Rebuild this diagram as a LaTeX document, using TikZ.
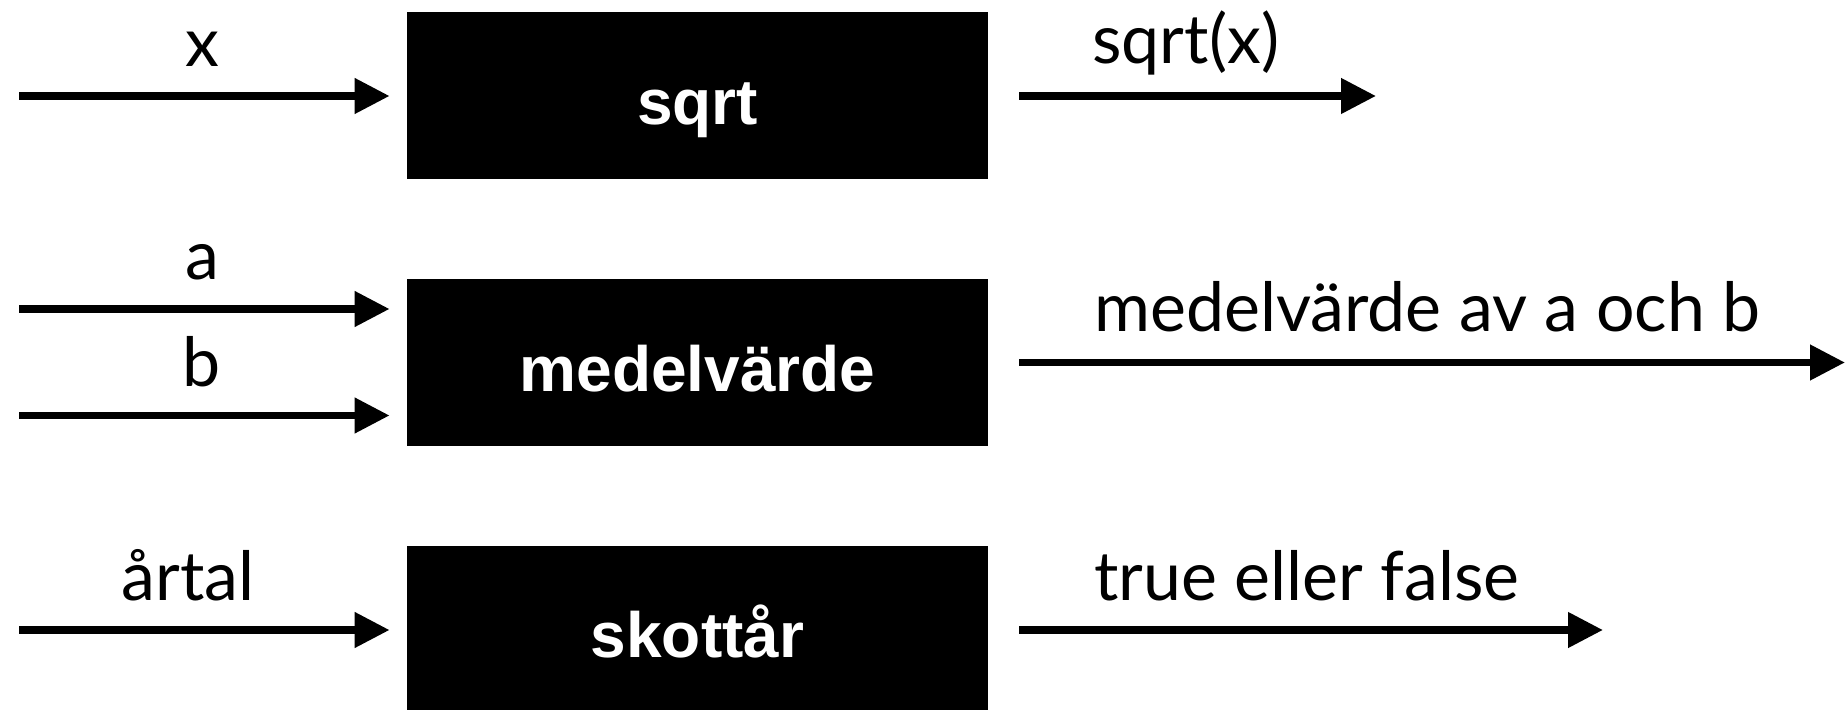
\documentclass[tikz,border=0pt]{standalone}
\usepackage{fontspec}
\setmainfont{Lato}
\newfontfamily\boxfont{Liberation Sans}
\usetikzlibrary{arrows.meta}

\tikzset{
  funcbox/.style={fill=black, draw=none, minimum width=290.5pt, minimum height=83.5pt,
    inner sep=0pt, text=white, text height=29.5pt, text depth=0pt,
    font=\boxfont\fontsize{32pt}{36pt}\selectfont\bfseries},
  lbl/.style={inner sep=0pt, font=\fontsize{34pt}{40pt}\selectfont},
  conn/.style={line width=3.75pt, -{Triangle[length=17.5pt,width=17pt]}},
}

\begin{document}
\begin{tikzpicture}[x=0.5pt,y=-0.5pt]
  \useasboundingbox (0,0) rectangle (1845,710);

  % function boxes
  \node[funcbox] (sqrt) at (697.5,95.5) {sqrt};
  \node[funcbox] (medel) at (697.5,362.5) {medelvärde};
  \node[funcbox, minimum height=82pt] (skott) at (697.5,628) {skottår};

  % free ends of the connectors
  \coordinate (xin) at (19,96);
  \coordinate (ain) at (19,309);
  \coordinate (bin) at (19,415.5);
  \coordinate (yin) at (19,630);
  \coordinate (sqrtout) at (1376,96);
  \coordinate (medelout) at (1845,362.5);
  \coordinate (skottout) at (1603,630);

  % inputs
  \draw[conn, shorten >=8.5pt] (xin) -- (sqrt.west |- xin);
  \draw[conn, shorten >=8.5pt] (ain) -- (medel.west |- ain);
  \draw[conn, shorten >=8.5pt] (bin) -- (medel.west |- bin);
  \draw[conn, shorten >=8.5pt] (yin) -- (skott.west |- yin);

  % outputs
  \draw[conn, shorten <=15.5pt] (sqrt.east |- sqrtout) -- (sqrtout);
  \draw[conn, shorten <=15.5pt] (medel.east |- medelout) -- (medelout);
  \draw[conn, shorten <=15.5pt] (skott.east |- skottout) -- (skottout);

  % labels
  \node[lbl, anchor=base] (lx) at (202,67) {x};
  \node[lbl, anchor=base] (la) at (202,280) {a};
  \node[lbl, anchor=base] (lb) at (202,387) {b};
  \node[lbl, anchor=base] (ly) at (188,600) {årtal};
  \node[lbl, anchor=base west] (lsq) at (1092,64) {sqrt(x)};
  \node[lbl, anchor=base west] (lmv) at (1094,332) {medelvärde av a och b};
  \node[lbl, anchor=base west] (lsk) at (1094,600) {true eller false};
\end{tikzpicture}
\end{document}
